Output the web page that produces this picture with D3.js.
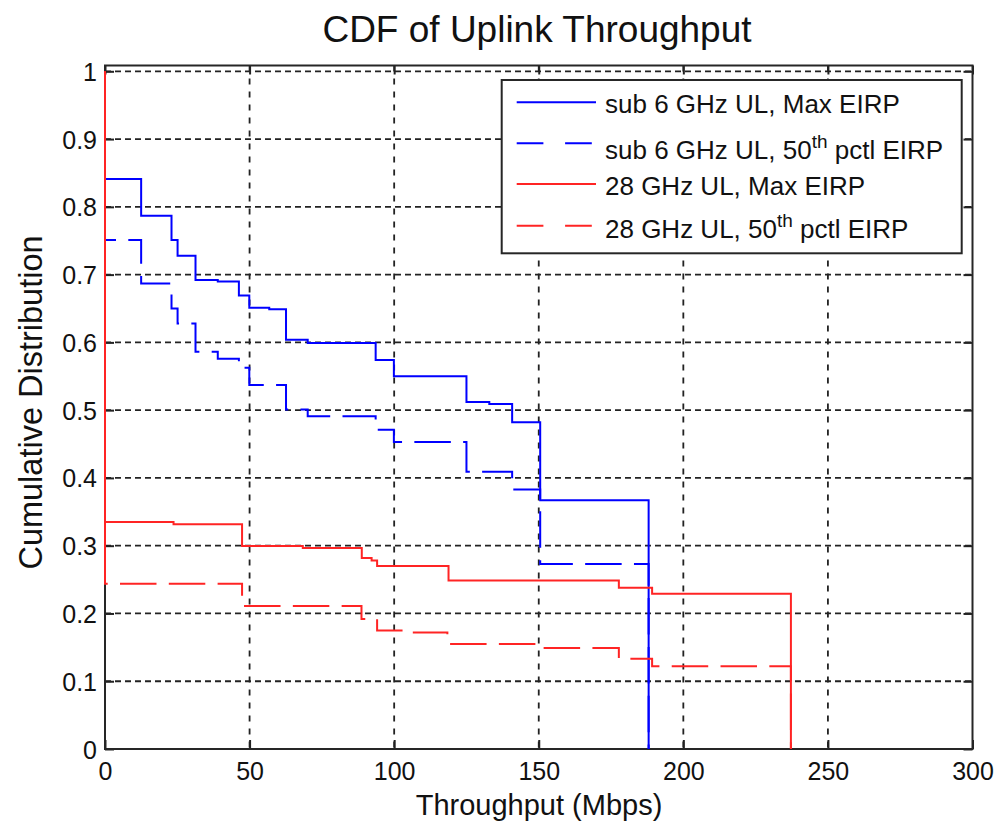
<!DOCTYPE html>
<html>
<head>
<meta charset="utf-8">
<script src="https://cdn.jsdelivr.net/npm/d3@7"></script>
<style>
  body { margin: 0; background: #fff; }
  text { font-family: "Liberation Sans", Arial, sans-serif; fill: #111; }
</style>
</head>
<body>
<svg id="chart" width="999" height="826"></svg>
<script>
// ---------------- data ----------------
const xTicks = [0, 50, 100, 150, 200, 250, 300];
const xTickLabels = ["0", "50", "100", "150", "200", "250", "300"];
const yTicks = [0, 0.1, 0.2, 0.3, 0.4, 0.5, 0.6, 0.7, 0.8, 0.9, 1];
const yTickLabels = ["0", "0.1", "0.2", "0.3", "0.4", "0.5", "0.6", "0.7", "0.8", "0.9", "1"];

// step breakpoints (x in Mbps) and the value held from that x onward
const sub6MaxX  = [0, 12.5, 23.0, 25.1, 31.3, 39.0, 46.3, 49.9, 56.8, 62.6, 70.1, 93.6, 99.9, 125.0, 132.9, 140.8, 150.5, 188.0];
const sub6MaxY  = [0.841, 0.787, 0.751, 0.728, 0.692, 0.690, 0.669, 0.651, 0.649, 0.604, 0.599, 0.574, 0.550, 0.512, 0.509, 0.482, 0.367, 0];

const sub6MedX  = [0, 12.5, 23.0, 25.1, 31.3, 39.0, 46.3, 49.9, 62.6, 70.1, 93.6, 99.9, 125.0, 140.8, 150.5, 188.0];
const sub6MedY  = [0.751, 0.687, 0.650, 0.628, 0.586, 0.576, 0.5625, 0.537, 0.501, 0.491, 0.471, 0.453, 0.409, 0.383, 0.273, 0];

const mm28MaxX  = [0, 0, 23.7, 47.4, 68.4, 88.8, 92.2, 94.1, 118.8, 177.7, 189.2, 237.2];
const mm28MaxY  = [1, 0.335, 0.3315, 0.2995, 0.2965, 0.2817, 0.278, 0.270, 0.2487, 0.238, 0.229, 0];

const mm28MedX  = [0, 0, 47.4, 88.7, 94.1, 103.0, 118.4, 150.0, 177.7, 189.2, 237.2];
const mm28MedY  = [1, 0.244, 0.211, 0.192, 0.175, 0.172, 0.155, 0.149, 0.133, 0.122, 0];

const seriesNames = [
  ["sub 6 GHz UL, Max EIRP"],
  ["sub 6 GHz UL, 50", "th", " pctl EIRP"],
  ["28 GHz UL, Max EIRP"],
  ["28 GHz UL, 50", "th", " pctl EIRP"]
];
const seriesColors = ["#0000ff", "#0000ff", "#ff2424", "#ff2424"];
const seriesDashed = [false, true, false, true];

// ---------------- chart ----------------
const svg = d3.select("#chart");
const L = 105, R = 972.5, T = 65.5, B = 749;
const x = d3.scaleLinear().domain([0, 300]).range([L, R]);
const y = d3.scaleLinear().domain([0, 1]).range([B, 71.3]);

svg.append("rect").attr("width", 999).attr("height", 826).attr("fill", "#fff");

// grid
const grid = svg.append("g");
grid.selectAll("line.gx").data(xTicks.filter(d => d > 0 && d < 300)).join("line")
  .attr("x1", d => x(d)).attr("x2", d => x(d)).attr("y1", T).attr("y2", B)
  .attr("stroke", "#222").attr("stroke-width", 1.8).attr("stroke-dasharray", "6,7");
grid.selectAll("line.gy").data(yTicks.filter(d => d > 0)).join("line")
  .attr("x1", L).attr("x2", R).attr("y1", d => y(d)).attr("y2", d => y(d))
  .attr("stroke", "#222").attr("stroke-width", 1.8).attr("stroke-dasharray", "6,4");

// axes (ticks inward, all four sides)
const fmtX = (d, i) => xTickLabels[i];
const fmtY = (d, i) => yTickLabels[i];
const axB = svg.append("g").attr("transform", `translate(0,${B})`)
  .call(d3.axisBottom(x).tickValues(xTicks).tickFormat(fmtX).tickSizeInner(-9).tickSizeOuter(0).tickPadding(13));
const axL = svg.append("g").attr("transform", `translate(${L},0)`)
  .call(d3.axisLeft(y).tickValues(yTicks).tickFormat(fmtY).tickSizeInner(-9).tickSizeOuter(0).tickPadding(8));
const axT = svg.append("g").attr("transform", `translate(0,${T})`)
  .call(d3.axisTop(x).tickValues(xTicks).tickFormat("").tickSizeInner(-9).tickSizeOuter(0));
const axR = svg.append("g").attr("transform", `translate(${R},0)`)
  .call(d3.axisRight(y).tickValues(yTicks).tickFormat("").tickSizeInner(-9).tickSizeOuter(0));
[axB, axL, axT, axR].forEach(a => {
  a.select(".domain").remove();
  a.selectAll(".tick line").attr("stroke", "#222").attr("stroke-width", 2);
  a.selectAll("text").attr("font-size", 25).attr("fill", "#111")
    .attr("font-family", '"Liberation Sans", Arial, sans-serif');
});
axL.selectAll("text").attr("dy", "0.36em");

// box
svg.append("rect").attr("x", L).attr("y", T).attr("width", R - L).attr("height", B - T)
  .attr("fill", "none").attr("stroke", "#262626").attr("stroke-width", 2);

// lines
const stepLine = d3.line().x(d => x(d[0])).y(d => y(d[1])).curve(d3.curveStepAfter);
const allX = [sub6MaxX, sub6MedX, mm28MaxX, mm28MedX];
const allY = [sub6MaxY, sub6MedY, mm28MaxY, mm28MedY];
const DASH = 36.5, GAP = 12.3;
allX.forEach((xs, k) => {
  const pts = xs.map((v, i) => [v, allY[k][i]]);
  const p = svg.append("path").attr("d", stepLine(pts))
    .attr("fill", "none").attr("stroke", seriesColors[k]).attr("stroke-width", 2);
  if (seriesDashed[k]) {
    const total = p.node().getTotalLength();
    if (allY[k][0] === 1) {
      // first vertical drop at x=0 drawn continuously, then regular dashes
      const v = y(allY[k][1]) - y(allY[k][0]) + 2.7;
      const arr = [v];
      let s = v;
      while (s < total + 100) { arr.push(GAP, DASH); s += GAP + DASH; }
      arr.push(GAP);
      p.attr("stroke-dasharray", arr.join(","));
    } else {
      p.attr("stroke-dasharray", `${DASH},${GAP}`).attr("stroke-dashoffset", 25.5);
    }
  }
});

// legend
const lg = svg.append("g");
lg.append("rect").attr("x", 501.7).attr("y", 80).attr("width", 460).attr("height", 173.3)
  .attr("fill", "#fff").attr("stroke", "#262626").attr("stroke-width", 2);
const rowLineY = [102.3, 143.3, 184, 225.7];
const rowTextY = [113.3, 159.3, 194.5, 237.7];
seriesNames.forEach((parts, k) => {
  lg.append("line").attr("x1", 516.7).attr("x2", 596).attr("y1", rowLineY[k]).attr("y2", rowLineY[k])
    .attr("stroke", seriesColors[k]).attr("stroke-width", 2)
    .attr("stroke-dasharray", seriesDashed[k] ? "26.7,21.7" : null);
  const t = lg.append("text").attr("x", 605).attr("y", rowTextY[k]).attr("font-size", 26);
  if (parts.length === 1) {
    t.text(parts[0]);
  } else {
    t.append("tspan").text(parts[0]);
    t.append("tspan").attr("font-size", 19).attr("dy", -11).text(parts[1]);
    t.append("tspan").attr("dy", 11).text(parts[2]);
  }
});

// titles
svg.append("text").attr("x", 537).attr("y", 41.7).attr("text-anchor", "middle")
  .attr("font-size", 37).text("CDF of Uplink Throughput");
svg.append("text").attr("x", 539).attr("y", 815).attr("text-anchor", "middle")
  .attr("font-size", 29).text("Throughput (Mbps)");
svg.append("text").attr("transform", "translate(42,402.5) rotate(-90)").attr("text-anchor", "middle")
  .attr("font-size", 32.5).text("Cumulative Distribution");
</script>
</body>
</html>
